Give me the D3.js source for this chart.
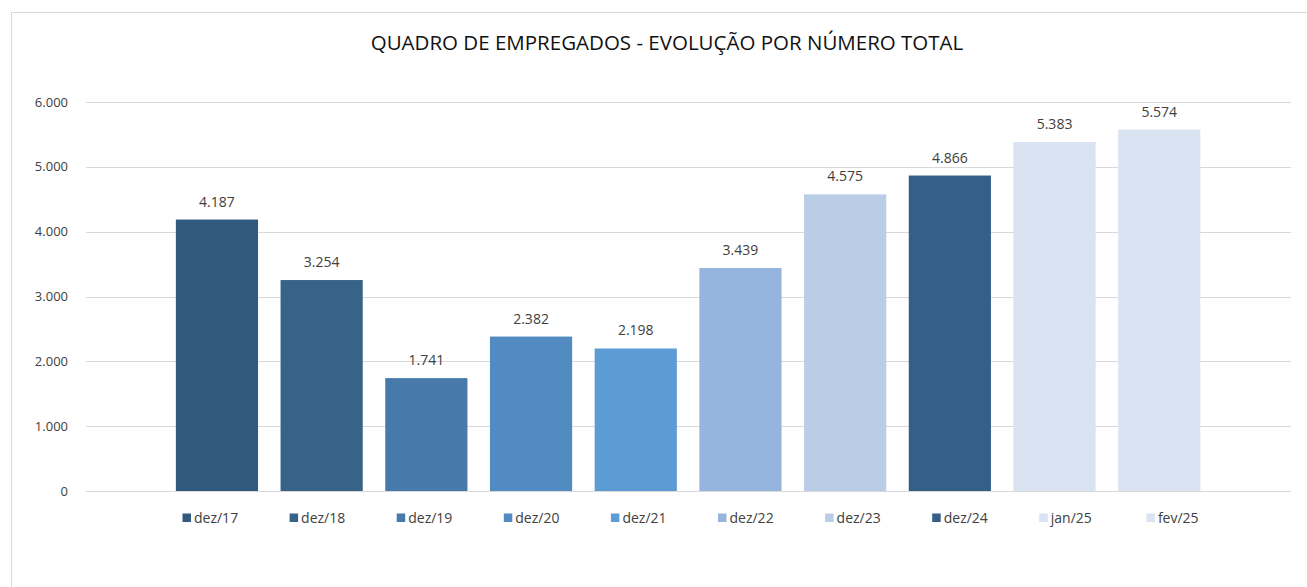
<!DOCTYPE html>
<html>
<head>
<meta charset="utf-8">
<script src="https://cdn.jsdelivr.net/npm/d3@7"></script>
<style>
  html, body { margin: 0; padding: 0; background: #fff; }
  svg { display: block; font-family: "Open Sans", "Liberation Sans", sans-serif; }
</style>
</head>
<body>
<svg id="chart" width="1307" height="587"></svg>
<script>
// dados
const categories = ["dez/17", "dez/18", "dez/19", "dez/20", "dez/21", "dez/22", "dez/23", "dez/24", "jan/25", "fev/25"];
const values = [4187, 3254, 1741, 2382, 2198, 3439, 4575, 4866, 5383, 5574];
const barColors = ["#325a7e", "#386389", "#4779ab", "#518bc2", "#5d9bd5", "#95b5de", "#b9cde6", "#365f87", "#dae3f1", "#dae3f1"];
const yTicks = [0, 1000, 2000, 3000, 4000, 5000, 6000];
const title = "QUADRO DE EMPREGADOS - EVOLUÇÃO POR NÚMERO TOTAL";

const svg = d3.select("#chart");
const W = 1307, H = 587;

// formato pt-BR (ponto como separador de milhar)
const fmt = d3.formatLocale({ decimal: ",", thousands: ".", grouping: [3], currency: ["R$", ""] }).format(",d");

// moldura do gráfico
svg.append("rect")
  .attr("x", 11.5).attr("y", 12.5)
  .attr("width", W).attr("height", H)
  .attr("fill", "#fff")
  .attr("stroke", "#d9d9d9");

// título
svg.append("text")
  .attr("x", 667).attr("y", 50)
  .attr("text-anchor", "middle")
  .attr("font-size", 20.5)
  .attr("fill", "#111")
  .text(title);

const gridLeft = 86, gridRight = 1291;
const y = d3.scaleLinear().domain([0, 6000]).range([491, 102]);
const x = d3.scaleBand().domain(categories).range([164.6, 1211.6]).paddingInner(0.215).paddingOuter(0.1075);

// linhas de grade
svg.append("g")
  .selectAll("line")
  .data(yTicks)
  .join("line")
  .attr("x1", gridLeft).attr("x2", gridRight)
  .attr("y1", d => Math.round(y(d)) + 0.5)
  .attr("y2", d => Math.round(y(d)) + 0.5)
  .attr("stroke", "#d9d9d9")
  .attr("stroke-width", 1);

// rótulos do eixo Y
svg.append("g")
  .selectAll("text")
  .data(yTicks)
  .join("text")
  .attr("x", 68)
  .attr("y", d => y(d))
  .attr("dy", "0.35em")
  .attr("text-anchor", "end")
  .attr("font-size", 13)
  .attr("fill", "#404040")
  .text(d => fmt(d));

// barras
svg.append("g")
  .selectAll("rect")
  .data(categories)
  .join("rect")
  .attr("x", d => x(d))
  .attr("width", x.bandwidth())
  .attr("y", (d, i) => y(values[i]))
  .attr("height", (d, i) => y(0) - y(values[i]))
  .attr("fill", (d, i) => barColors[i]);

// redesenha a linha do zero por cima das barras
svg.append("line")
  .attr("x1", gridLeft).attr("x2", gridRight)
  .attr("y1", Math.round(y(0)) + 0.5).attr("y2", Math.round(y(0)) + 0.5)
  .attr("stroke", "#d9d9d9");

// rótulos de valor
svg.append("g")
  .selectAll("text")
  .data(categories)
  .join("text")
  .attr("x", d => x(d) + x.bandwidth() / 2)
  .attr("y", (d, i) => y(values[i]) - 13)
  .attr("text-anchor", "middle")
  .attr("font-size", 14)
  .attr("fill", "#404040")
  .text((d, i) => fmt(values[i]));

// legenda
const legendStep = 107.1, legendX0 = 182.5, legendY = 518;
const legend = svg.append("g")
  .selectAll("g")
  .data(categories)
  .join("g")
  .attr("transform", (d, i) => `translate(${legendX0 + i * legendStep},${legendY})`);

legend.append("rect")
  .attr("x", 0).attr("y", -4.5)
  .attr("width", 8.5).attr("height", 8.5)
  .attr("fill", (d, i) => barColors[i]);

legend.append("text")
  .attr("x", 11.5).attr("y", 0)
  .attr("dy", "0.35em")
  .attr("font-size", 14)
  .attr("fill", "#404040")
  .text(d => d);
</script>
</body>
</html>
